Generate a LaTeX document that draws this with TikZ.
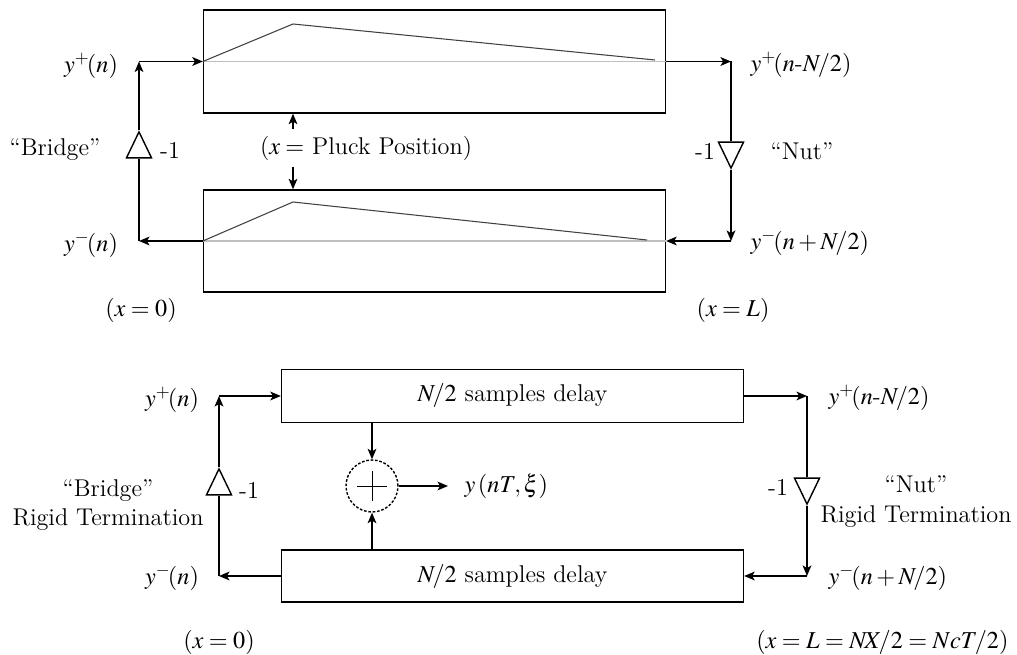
\documentclass[tikz,border=0pt]{standalone}
\usepackage{mathptmx}
\usetikzlibrary{arrows.meta,shapes.geometric}

\begin{document}
\begin{tikzpicture}[x=0.02cm, y=-0.02cm, >={Stealth[length=6pt,width=5pt,inset=1.5pt]}, thick,
    font=\fontsize{13.8}{17}\selectfont,
    rail/.style={draw, rectangle, minimum width=9.24cm, inner sep=0pt},
    amp/.style={draw, isosceles triangle, isosceles triangle apex angle=54,
        isosceles triangle stretches, inner sep=0pt, minimum width=0.5cm, minimum height=0.52cm},
    adder/.style={draw, circle, dash pattern=on 1.5pt off 1pt, minimum size=1.04cm, inner sep=0pt},
    wave/.style={draw=black!75, semithick}]
    \useasboundingbox (0,0) rectangle (1017,655);

    % Upper picture: travelling waves on two rails
    \node[rail, minimum height=2.06cm] (rtop) at (434.5,61.5) {};
    \node[rail, minimum height=2.04cm] (rbot) at (434.5,241) {};
    \draw[gray!50] (rtop.west) -- (rtop.east);
    \draw[wave] (rtop.west) -- (293,24) -- (655,60);
    \draw[gray!50] (rbot.west) -- (rbot.east);
    \draw[wave] (rbot.west) -- (293,202) -- (647,240);

    % Terminations
    \node[amp, shape border rotate=90] (bridge) at (139,150) {};
    \node[amp, shape border rotate=-90] (nut) at (731,150) {};
    \coordinate (ul) at (139,61.5);
    \coordinate (ll) at (139,241);
    \coordinate (ur) at (731,61.5);
    \coordinate (lr) at (731,241);
    \draw[->] (rbot.west) -- (ll);
    \draw (ll) -- (bridge.lower side);
    \draw[->] (bridge.apex) -- (ul);
    \draw[->] (ul) -- (rtop.west);
    \draw[->] (rtop.east) -- (ur);
    \draw (ur) -- (nut.lower side);
    \draw[->] (nut.apex) -- (lr);
    \draw[->] (lr) -- (rbot.east);

    % Pluck position
    \node (pluck) at (366,148) {($x =$ Pluck Position)};
    \coordinate (pk) at (293,148);
    \draw[->] (pluck.north -| pk) -- (pk |- rtop.south);
    \draw[->] (pluck.south -| pk) -- (pk |- rbot.north);

    % Labels
    \node (yp1) at (91,66) {$y^{+}\!(n)$};
    \node (ym1) at (91,245) {$y^{-}\!(n)$};
    \node (br1) at (55,150) {``Bridge''};
    \node (g1) at (170,150) {-1};
    \node (g2) at (705,151) {-1};
    \node (nut1) at (802,151) {``Nut''};
    \node[anchor=west] (yq1) at (744,65) {$y^{+}\!(n\mbox{-}N\!/2)$};
    \node[anchor=west] (yr1) at (744,243) {$y^{-}\!(n+N\!/2)$};
    \node (x01) at (141,310) {$(x=0)$};
    \node (xl1) at (733,310) {$(x=L)$};

    % Lower picture: delay lines with output sum
    \node[rail, minimum height=1.06cm] (dtop) at (512.5,396) {$N\!/2$ samples delay};
    \node[rail, minimum height=1.04cm] (dbot) at (512.5,576) {$N\!/2$ samples delay};
    \node[amp, shape border rotate=90] (bridge2) at (219,487) {};
    \node[amp, shape border rotate=-90] (nut2) at (807,486) {};
    \coordinate (ul2) at (219,396);
    \coordinate (ll2) at (219,576);
    \coordinate (ur2) at (807,396);
    \coordinate (lr2) at (807,576);
    \draw[->] (dbot.west) -- (ll2);
    \draw (ll2) -- (bridge2.lower side);
    \draw[->] (bridge2.apex) -- (ul2);
    \draw[->] (ul2) -- (dtop.west);
    \draw[->] (dtop.east) -- (ur2);
    \draw (ur2) -- (nut2.lower side);
    \draw[->] (nut2.apex) -- (lr2);
    \draw[->] (lr2) -- (dbot.east);

    % Summing junction
    \node[adder] (sum) at (372,486) {};
    \draw[thin] ([xshift=-0.3cm]sum.center) -- ([xshift=0.3cm]sum.center);
    \draw[thin] ([yshift=-0.3cm]sum.center) -- ([yshift=0.3cm]sum.center);
    \draw[->] (sum.north |- dtop.south) -- (sum.north);
    \draw[->] (sum.south |- dbot.north) -- (sum.south);
    \node[anchor=west, inner xsep=9pt] (yout) at (448,486) {$y\,(nT,\xi)$};
    \draw[->] (sum.east) -- (yout.west);

    % Labels
    \node (yp2) at (172,400) {$y^{+}\!(n)$};
    \node (ym2) at (172,578) {$y^{-}\!(n)$};
    \node[align=center] (br2) at (108,505) {``Bridge''\\Rigid Termination};
    \node (g3) at (249,490) {-1};
    \node (g4) at (778,487) {-1};
    \node[align=center] (nut3) at (916,502) {``Nut''\\Rigid Termination};
    \node[anchor=west] (yq2) at (822,398) {$y^{+}\!(n\mbox{-}N\!/2)$};
    \node[anchor=west] (yr2) at (822,578) {$y^{-}\!(n+N\!/2)$};
    \node (x02) at (219,642) {$(x=0)$};
    \node[anchor=east] (xl2) at (1015,642) {$(x=L=N\!X\!/2=NcT\!/2)$};
\end{tikzpicture}
\end{document}
